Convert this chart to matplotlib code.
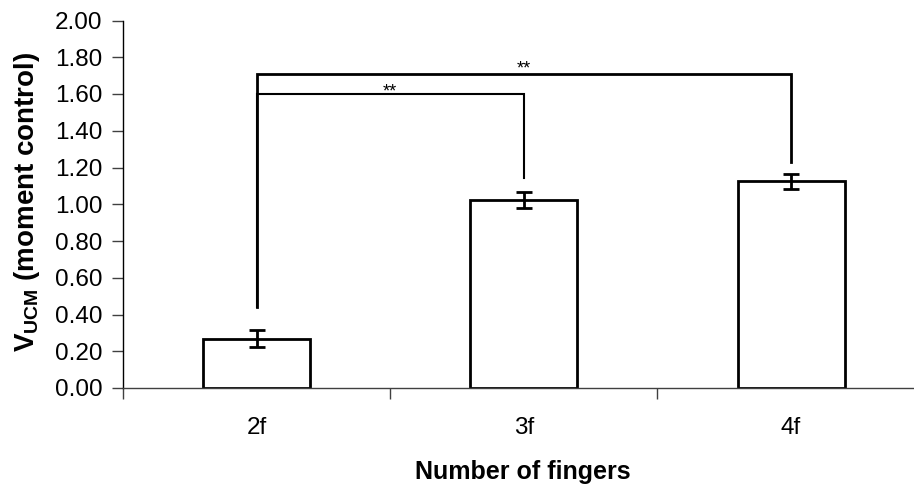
import matplotlib
matplotlib.use("Agg")
import matplotlib.pyplot as plt
import numpy as np

categories = ["2f", "3f", "4f"]
means = [0.268, 1.022, 1.125]
errors = [0.046, 0.042, 0.041]
yticks = [0.0, 0.2, 0.4, 0.6, 0.8, 1.0, 1.2, 1.4, 1.6, 1.8, 2.0]

plt.rcParams['font.family'] = ['Liberation Sans', 'DejaVu Sans']
plt.rcParams['mathtext.fontset'] = 'custom'
plt.rcParams['mathtext.rm'] = 'Liberation Sans'
plt.rcParams['mathtext.bf'] = 'Liberation Sans:bold'

fig = plt.figure(figsize=(9.14, 4.87), dpi=100)
ax = fig.add_axes([123/914, 1-388/487, (924.7-123)/914, (388-20.5)/487])

x = np.arange(len(categories))
ax.bar(x, means, width=0.40, color='white', edgecolor='black', linewidth=2, zorder=2)
ax.errorbar(x, means, yerr=errors, fmt='none', ecolor='black', elinewidth=2,
            capsize=6, capthick=2, zorder=3)

# significance brackets
def bracket(i, j, y, yi, yj, label, lw, dy):
    ax.plot([x[i], x[i], x[j], x[j]], [yi, y, y, yj], color='black', lw=lw,
            solid_joinstyle='miter', zorder=4)
    ax.text((x[i] + x[j]) / 2, y + dy, label, ha='center', va='baseline',
            fontsize=13)

bracket(0, 1, 1.60, 0.44, 1.143, "**", 1.5, -0.012)
bracket(0, 2, 1.711, 0.44, 1.23, "**", 2, 0.0)

ax.set_xlim(-0.5, 2.5)
ax.set_ylim(0, 2.0)
ax.set_yticks(yticks)
ax.set_yticklabels([f"{v:.2f}" for v in yticks])
ax.set_xticks(x)
ax.set_xticklabels(categories)
ax.set_xticks(np.arange(-0.5, 3.0, 1.0), minor=True)
ax.tick_params(axis='x', which='major', length=0, pad=21, labelsize=17.5)
ax.tick_params(axis='x', which='minor', length=8, width=1, direction='out', color='#404040')
ax.tick_params(axis='y', length=8, width=1, direction='out', labelsize=17.5, pad=7, color='#404040')

for s in ['top', 'right']:
    ax.spines[s].set_visible(False)
ax.spines['left'].set_color('black')
ax.spines['bottom'].set_color('#404040')
ax.spines['left'].set_linewidth(1)
ax.spines['bottom'].set_linewidth(1)

fig.text(523/914, 1-472/487, "Number of fingers", ha='center', va='center',
         fontsize=18, fontweight='bold')
fig.text(27/914, 1-201.5/487, r"$\mathbf{V}_{\mathbf{UCM}}$ (moment control)", ha='center', va='center',
         rotation=90, fontsize=20, fontweight='bold')

fig.savefig("out.png", dpi=100)
